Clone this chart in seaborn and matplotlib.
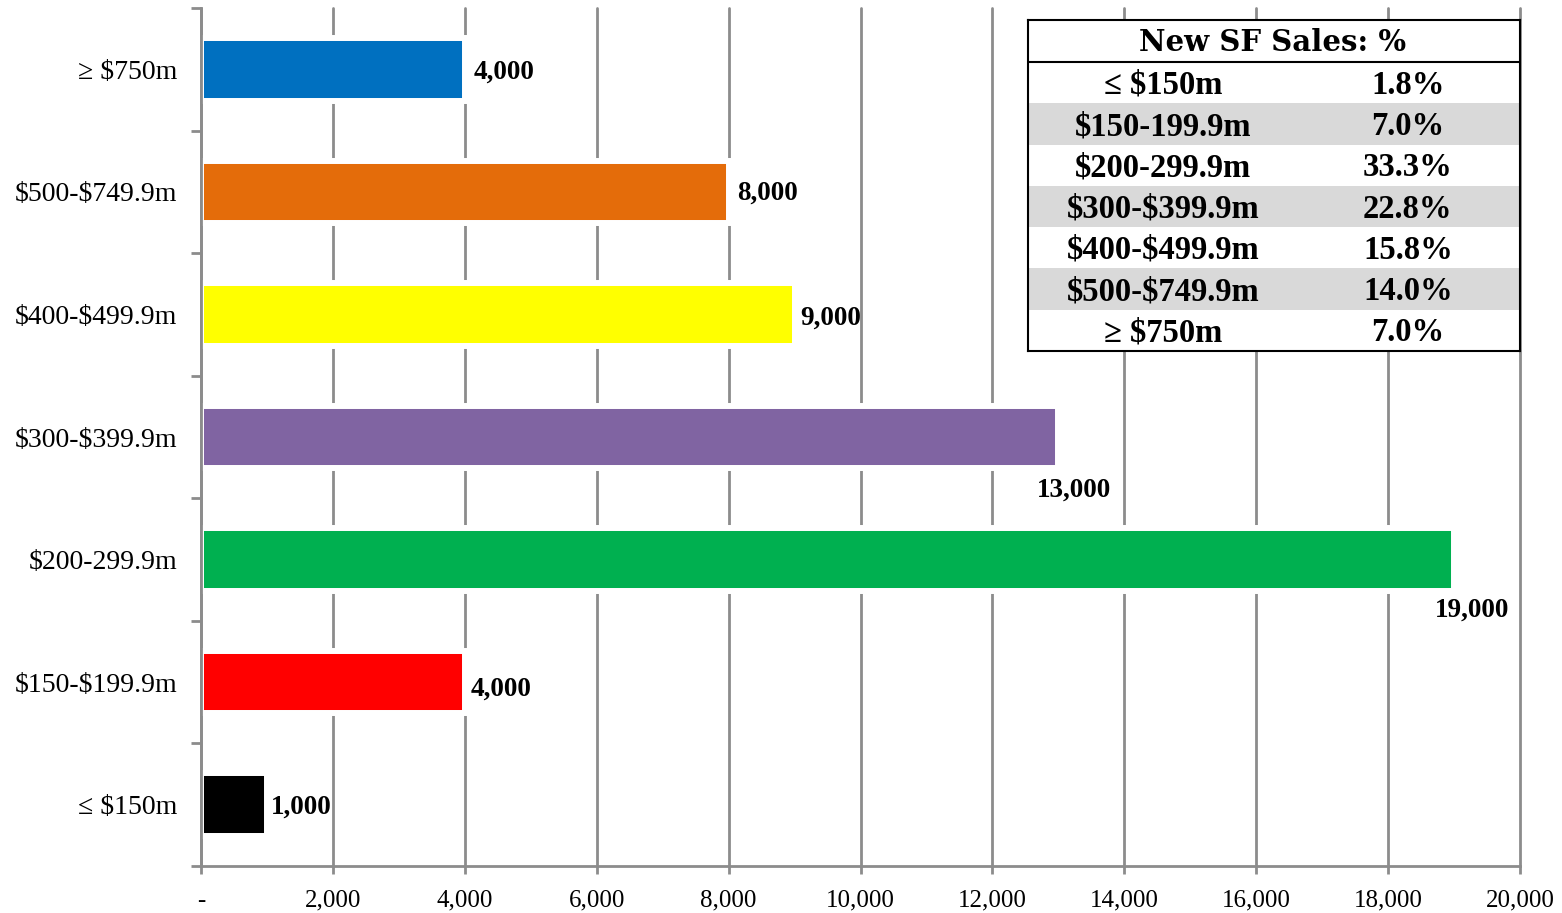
"""New single-family sales by price band, with share table."""

import matplotlib
matplotlib.use("Agg")
import matplotlib.pyplot as plt
import matplotlib.ticker as mticker
import numpy as np
import pandas as pd
import seaborn as sns

# ---- data -------------------------------------------------------------
price_bands = [
    "≥ $750m",
    "$500-$749.9m",
    "$400-$499.9m",
    "$300-$399.9m",
    "$200-299.9m",
    "$150-$199.9m",
    "≤ $150m",
]
sales = [4000, 8000, 9000, 13000, 19000, 4000, 1000]
bar_colors = ["#0070C0", "#E46C0A", "#FFFF00", "#8064A2",
              "#00B050", "#FF0000", "#000000"]

table_title = "New SF Sales: %"
table_bands = ["≤ $150m", "$150-199.9m", "$200-299.9m", "$300-$399.9m",
               "$400-$499.9m", "$500-$749.9m", "≥ $750m"]
table_shares = ["1.8%", "7.0%", "33.3%", "22.8%", "15.8%", "14.0%", "7.0%"]

x_ticks = list(range(0, 20001, 2000))

# ---- style ------------------------------------------------------------
sns.set_style("white")
plt.rcParams["font.family"] = ["Liberation Serif", "DejaVu Serif"]
plt.rcParams["text.parse_math"] = False   # "$" signs are literal here
plt.rcParams["text.color"] = "black"
plt.rcParams["xtick.labelcolor"] = "black"
plt.rcParams["ytick.labelcolor"] = "black"

GRID = "#8C8C8C"

df = pd.DataFrame({"band": price_bands, "sales": sales})

fig = plt.figure(figsize=(15.62, 9.13), dpi=100)
ax = fig.add_axes([0.1287, 0.0515, 0.8444, 0.9397])

sns.barplot(
    data=df, x="sales", y="band", hue="band",
    palette=dict(zip(price_bands, bar_colors)),
    orient="h", width=0.51, legend=False, ax=ax,
    edgecolor="white", linewidth=4.3, saturation=1,
)

ax.set_xlim(0, 20000)
ax.set_ylim(len(price_bands) - 0.5, -0.5)
ax.set_xlabel("")
ax.set_ylabel("")

# grid + spines
ax.set_axisbelow(True)
ax.set_xticks(x_ticks)
ax.xaxis.grid(True, color=GRID, linewidth=2)
ax.yaxis.grid(False)
for gl in ax.get_xgridlines():
    gl.set_clip_on(False)   # keep the 20,000 line at full width
for side in ["top", "right"]:
    ax.spines[side].set_visible(False)
for side in ["left", "bottom"]:
    ax.spines[side].set_color(GRID)
    ax.spines[side].set_linewidth(2)

ax.xaxis.set_major_formatter(
    mticker.FuncFormatter(lambda v, _: "-" if v == 0 else f"{int(v):,}")
)
ax.tick_params(axis="x", bottom=True, length=6, width=2, color=GRID,
               labelsize=18, pad=11)

# category labels at the centres, tick marks between categories
ax.tick_params(axis="y", which="major", left=False, labelsize=20, pad=13.5)
ax.set_yticks(np.arange(-0.5, len(price_bands)), minor=True)
ax.tick_params(axis="y", which="minor", left=True, length=7, width=2,
               color=GRID)

# value labels: short bars get the label at the end, long ones below it
label_offsets = {
    0: (6, -2, "left", "center"),
    1: (6, -1, "left", "center"),
    2: (4, -3, "left", "center"),
    3: (11, -38.5, "center", "center"),
    4: (13, -36.5, "center", "center"),
    5: (4, -5, "left", "center"),
    6: (3, -1.5, "left", "center"),
}
for i, val in enumerate(sales):
    dx, dy, ha, va = label_offsets[i]
    ax.annotate(f"{val:,}", xy=(val, i), xytext=(dx, dy),
                textcoords="offset points", ha=ha, va=va,
                fontsize=19.5, fontweight="bold", color="black")

# ---- share table ------------------------------------------------------
tab = fig.add_axes([0.6581, 0.6156, 0.315, 0.3625], zorder=5)
tab.set_xlim(0, 1)
tab.set_ylim(1, 0)
tab.set_xticks([])
tab.set_yticks([])
tab.set_facecolor("white")
for sp in tab.spines.values():
    sp.set_color("black")
    sp.set_linewidth(1.5)

header_h = 0.127
row_h = (1 - header_h) / len(table_bands)

tab.text(0.498, header_h / 2 + 0.006, table_title, ha="center",
         va="center", fontsize=21, fontweight="bold",
         family="DejaVu Serif")
tab.axhline(header_h, color="black", linewidth=1.5)

for i, (band, share) in enumerate(zip(table_bands, table_shares)):
    top = header_h + i * row_h
    if i % 2 == 1:
        tab.axhspan(top, top + row_h, color="#D9D9D9", linewidth=0)
    cy = top + row_h / 2 + 0.008
    tab.text(0.274, cy, band, ha="center", va="center",
             fontsize=23.5, fontweight="bold")
    tab.text(0.772, cy, share, ha="center", va="center",
             fontsize=23.5, fontweight="bold")

fig.savefig("out.png", dpi=100)
plt.close(fig)
